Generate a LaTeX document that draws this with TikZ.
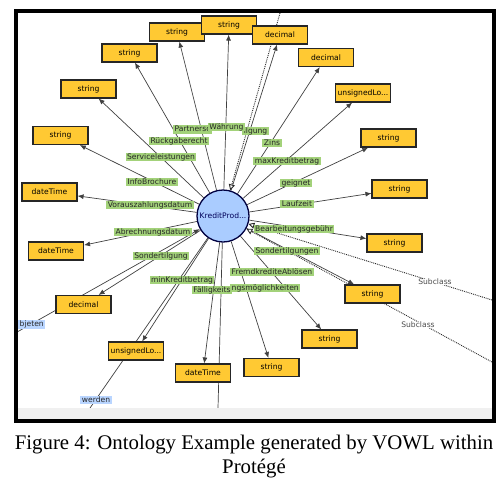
\documentclass[tikz,border=0pt]{standalone}
\usepackage{fontspec}
\usepackage{tikz}
\usetikzlibrary{%
  positioning,
  backgrounds,
  arrows.meta,
}
\newfontfamily\vowlfont{DejaVu Sans}
\newfontfamily\capfont{Liberation Serif}

\definecolor{dtyellow}{HTML}{FFC933}
\definecolor{dpgreen}{HTML}{A3D27A}
\definecolor{clsblue}{HTML}{AACCFF}
\definecolor{opblue}{HTML}{B9D5FF}

\tikzset{
  vowltext/.style = {font = \vowlfont\fontsize{7.6}{8}\selectfont},
  datatype/.style = {vowltext, draw = black!85, line width = 1.1pt,
    fill = dtyellow, minimum width = 55pt, minimum height = 18pt,
    inner sep = 0pt},
  dprop/.style = {vowltext, fill = dpgreen, text = black!85,
    inner xsep = 1.5pt, inner ysep = 0.8pt,
    text height = 5.6pt, text depth = 1.6pt},
  oprop/.style = {dprop, fill = opblue},
  link/.style = {draw = black!75, line width = 0.7pt},
  tolit/.style = {link, -{Latex[length = 6pt, width = 5pt]}},
  subcls/.style = {link, draw = black!85, line width = 0.9pt, densely dotted,
    -{Triangle[length = 6pt, width = 6pt, fill = white]}},
  capline/.style = {anchor = base, font = \capfont\fontsize{20.8}{24}\selectfont},
}

\begin{document}
\begin{tikzpicture}[x = 1pt, y = -1pt]
  \useasboundingbox (0,0) rectangle (502,482);

  % grey bar at the foot of the view
  \fill[gray!12] (18,408) rectangle (492,419);

  % the class
  \node[vowltext, circle, draw = black!75!blue, line width = 1.3pt,
    fill = clsblue, minimum size = 52pt, inner sep = 0pt,
    text = black!65!blue] (kp) at (223,216) {KreditProd...};

  % datatype properties
  \node[dprop, anchor = west] (lPart) at (173,129.5) {Partnersc};
  \node[dprop, anchor = east] (lTilg) at (269,131) {ilgung};
  \node[dprop] (lWaeh) at (226.5,127) {Währung};
  \node[dprop] (lRueck) at (179,141) {Rückgaberecht};
  \node[dprop] (lServ) at (161,157) {Serviceleistungen};
  \node[dprop] (lInfo) at (152,182) {InfoBrochure};
  \node[dprop] (lVor) at (150,205) {Vorauszahlungsdatum};
  \node[dprop] (lAbr) at (153,232) {Abrechnungsdatum};
  \node[dprop] (lSond) at (161,256) {Sondertilgung};
  \node[dprop] (lMin) at (182,280) {minKreditbetrag};
  \node[dprop, anchor = west] (lZahl) at (230,288) {ngsmöglichkeiten};
  \node[dprop] (lFaell) at (212,290) {Fälligkeits};
  \node[dprop] (lFremd) at (272,272) {FremdkrediteAblösen};
  \node[dprop] (lSonds) at (287,251) {Sondertilgungen};
  \node[dprop] (lBearb) at (294,229) {Bearbeitungsgebühr};
  \node[dprop] (lLauf) at (297,204) {Laufzeit};
  \node[dprop] (lGeig) at (296,183) {geignet};
  \node[dprop] (lMax) at (287,161) {maxKreditbetrag};
  \node[dprop] (lZins) at (272,143) {Zins};

  % object properties leaving the view
  \node[oprop, anchor = west] (lAnb) at (18,324.5) {bjeten};
  \node[oprop] (lWerd) at (96,400) {werden};

  % datatypes
  \node[datatype] (sPart) at (177,32) {string};
  \node[datatype] (sWaeh) at (229,25) {string};
  \node[datatype] (sRueck) at (129.5,53) {string};
  \node[datatype] (sServ) at (88.5,89) {string};
  \node[datatype] (sInfo) at (60.5,135.5) {string};
  \node[datatype] (dVor) at (49.5,192) {dateTime};
  \node[datatype] (dTilg) at (280,35) {decimal};
  \node[datatype] (dZins) at (326,57.5) {decimal};
  \node[datatype] (uMax) at (363,93) {unsignedLo...};
  \node[datatype] (sGeig) at (388.5,138) {string};
  \node[datatype] (sLauf) at (399.5,189) {string};
  \node[datatype] (sBearb) at (394.5,243) {string};
  \node[datatype] (sSonds) at (372.5,294) {string};
  \node[datatype] (sFremd) at (329.5,339) {string};
  \node[datatype] (sZahl) at (271.5,367.5) {string};
  \node[datatype] (dFaell) at (203,373) {dateTime};
  \node[datatype] (uMin) at (136,351) {unsignedLo...};
  \node[datatype] (dSond) at (83.5,304.5) {decimal};
  \node[datatype] (dAbr) at (56,251) {dateTime};

  % loose ends at the edge of the view
  \coordinate (anbEnd) at (18,331.5);
  \coordinate (werdEnd) at (90,408);
  \coordinate (vertEnd) at (218,408);
  \coordinate (topEnd) at (280,13);
  \coordinate (subAEnd) at (492,300);
  \coordinate (subBEnd) at (492,362);

  \node[vowltext, fill = white, text = black!70, inner sep = 0.5pt]
    (subA) at (435,282) {Subclass};
  \node[vowltext, fill = white, text = black!70, inner sep = 0.5pt]
    (subB) at (418,325) {Subclass};

  \begin{scope}[on background layer]
    \foreach \b in {sPart, sWaeh, sRueck, sServ, sInfo, dVor, dTilg,
      dZins, uMax, sGeig, sLauf, sBearb, sSonds, sFremd, sZahl, dFaell,
      uMin, dSond, dAbr}
      \draw[tolit] (kp) -- (\b);

    \draw[link, -{Latex[length = 6pt, width = 5pt]}] (anbEnd) -- (kp);
    \draw[link] (kp) -- (werdEnd);
    \draw[link] (kp) -- (vertEnd);

    \draw[subcls] (topEnd) -- (kp);
    \draw[subcls] (subAEnd) -- (kp);
    \draw[subcls] (subBEnd) -- (kp);
  \end{scope}

  % frame
  \draw[line width = 4pt] (16,11) rectangle (494,421);

  \node[capline] (capA) at (254,449)
    {Figure 4: Ontology Example generated by VOWL within};
  \node[capline] (capB) at (254,473) {Protégé};
\end{tikzpicture}
\end{document}
